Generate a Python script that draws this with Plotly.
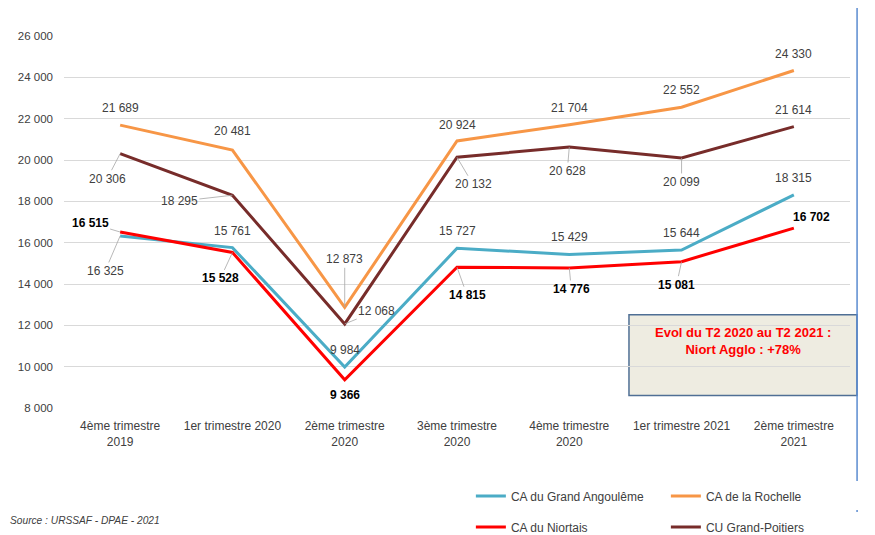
import plotly.graph_objects as go

# données
trimestres = ["4ème trimestre<br>2019", "1er trimestre 2020", "2ème trimestre<br>2020",
              "3ème trimestre<br>2020", "4ème trimestre<br>2020", "1er trimestre 2021",
              "2ème trimestre<br>2021"]
angouleme = [16325, 15761, 9984, 15727, 15429, 15644, 18315]
rochelle = [21689, 20481, 12873, 20924, 21704, 22552, 24330]
niortais = [16515, 15528, 9366, 14815, 14776, 15081, 16702]
poitiers = [20306, 18295, 12068, 20132, 20628, 20099, 21614]
y_ticks = [8000, 10000, 12000, 14000, 16000, 18000, 20000, 22000, 24000, 26000]

series = [
    ("CA du Grand Angoulême", angouleme, "#4BACC6", "legend"),
    ("CA de la Rochelle", rochelle, "#F79646", "legend"),
    ("CA du Niortais", niortais, "#FF0000", "legend2"),
    ("CU Grand-Poitiers", poitiers, "#772C2A", "legend2"),
]

# décalage des étiquettes (px) et traits de rappel
decalages = {
    "CA du Grand Angoulême": [(-15, 35, 1), (0, -17, 0), (0, -17, 0), (0, -17, 0), (0, -17, 0), (0, -17, 0), (0, -17, 0)],
    "CA de la Rochelle": [(0, -17, 0), (0, -19, 0), (0, -48, 1), (0, -16, 0), (0, -17, 0), (0, -17, 0), (0, -17, 0)],
    "CA du Niortais": [(-30, -9, 1), (-12, 26, 1), (0, 15, 0), (10, 28, 1), (2, 21, 1), (-5, 23, 1), (18, -11, 0)],
    "CU Grand-Poitiers": [(-13, 25, 1), (-53, 6, 1), (32, -13, 1), (16, 27, 1), (-2, 24, 1), (0, 24, 1), (0, -17, 0)],
}

def fmt(v):
    return f"{v:,}".replace(",", " ")

fig = go.Figure()
annotations = []
for nom, vals, couleur, leg in series:
    fig.add_trace(go.Scatter(x=trimestres, y=vals, mode="lines", name=nom,
                             line=dict(color=couleur, width=3), legend=leg))
    gras = nom == "CA du Niortais"
    for i, v in enumerate(vals):
        ax, ay, trait = decalages[nom][i]
        annotations.append(dict(
            x=trimestres[i], y=v, ax=ax, ay=ay, text=f"<b>{fmt(v)}</b>" if gras else fmt(v),
            showarrow=True, arrowhead=0, arrowwidth=0.8, standoff=0,
            arrowcolor="#A6A6A6" if trait else "rgba(0,0,0,0)",
            font=dict(size=12, color="#000000" if gras else "#404040")))

annotations.append(dict(xref="paper", yref="paper", x=-0.071, y=-0.302, xanchor="left",
                        yanchor="middle", text="<i>Source : URSSAF - DPAE - 2021</i>", showarrow=False,
                        font=dict(size=10.2, color="#404040")))
annotations.append(dict(xref="paper", yref="paper", x=0.864, y=0.181, xanchor="center",
                        yanchor="middle",
                        text="<b>Evol du T2 2020 au T2 2021 :<br>Niort Agglo : +78%</b>",
                        showarrow=False, font=dict(size=13, color="#FF0000")))

fig.update_layout(
    width=875, height=535,
    margin=dict(l=56, r=33, t=28, b=134.5, autoexpand=False),
    paper_bgcolor="white", plot_bgcolor="white",
    font=dict(family="Liberation Sans, Arial, sans-serif", size=12, color="#404040"),
    separators=", ",
    annotations=annotations,
    legend=dict(orientation="h", xref="container", yref="container", x=0.529, xanchor="left",
                y=0.088, yanchor="middle", entrywidth=150, font=dict(size=12, color="#404040")),
    legend2=dict(orientation="h", xref="container", yref="container", x=0.529, xanchor="left",
                 y=0.030, yanchor="middle", entrywidth=150, font=dict(size=12, color="#404040")),
    shapes=[
        dict(type="rect", xref="paper", yref="paper", x0=0.7188, x1=1.0089, y0=0.0336, y1=0.251,
             fillcolor="#EEECE1", line=dict(color="#4F6F95", width=1.5), layer="between"),
        dict(type="line", xref="paper", yref="paper", x0=1.009, x1=1.009, y0=-0.4, y1=1.1,
             line=dict(color="#5B8BD0", width=1.5)),
    ],
)
fig.update_xaxes(range=[-0.5, 6.5], showgrid=False, showline=False, ticks="", tickangle=0,
                 ticklabelstandoff=9, tickfont=dict(size=12, color="#404040"))
fig.update_yaxes(range=[8000, 26000], tickvals=y_ticks, tickformat=",d",
                 showgrid=True, gridcolor="#D9D9D9", gridwidth=1, zeroline=False,
                 ticklabelstandoff=10, tickfont=dict(size=11.5, color="#404040"))

fig.write_html("out.html")
